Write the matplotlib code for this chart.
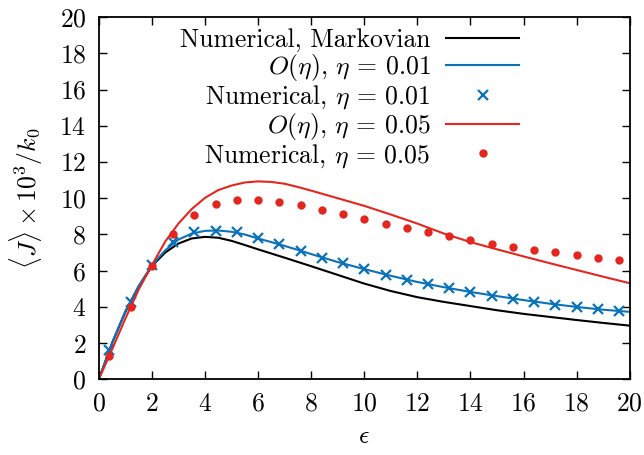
import matplotlib
matplotlib.use("Agg")
import matplotlib.pyplot as plt

# ---------- data ----------

# Markovian numerical curve
mark_x = [0, 0.5, 1, 1.5, 2, 2.5, 3, 3.5, 4, 4.5, 5, 5.5, 6, 7, 8, 9, 10,
          11, 12, 13, 14, 15, 16, 17, 18, 19, 20]
mark_y = [0, 2.0, 3.72, 5.12, 6.25, 7.0, 7.5, 7.78, 7.87, 7.82, 7.65, 7.42,
          7.18, 6.72, 6.25, 5.77, 5.29, 4.88, 4.54, 4.28, 4.05, 3.82, 3.62,
          3.45, 3.28, 3.12, 2.97]

# O(eta) curves
eps_x = [0, 0.5, 1, 1.5, 2, 2.5, 3, 3.5, 4, 4.5, 5, 5.5, 6, 6.5, 7, 7.5, 8,
         9, 10, 11, 12, 13, 14, 15, 16, 17, 18, 19, 20]
o01_y = [0, 2.0, 3.75, 5.15, 6.3, 7.12, 7.72, 8.05, 8.2, 8.22, 8.15, 8.0,
         7.78, 7.58, 7.37, 7.15, 6.92, 6.48, 6.09, 5.72, 5.38, 5.09, 4.83,
         4.6, 4.38, 4.18, 4.0, 3.85, 3.73]
o05_y = [0, 1.65, 3.35, 4.95, 6.3, 7.6, 8.6, 9.4, 10.02, 10.45, 10.7, 10.87,
         10.93, 10.9, 10.8, 10.62, 10.42, 10.0, 9.58, 9.1, 8.6, 8.05, 7.58,
         7.18, 6.79, 6.41, 6.04, 5.67, 5.31]

# numerical points
num_x = [0.4, 1.2, 2.0, 2.8, 3.6, 4.4, 5.2, 6.0, 6.8, 7.6, 8.4, 9.2, 10.0,
         10.8, 11.6, 12.4, 13.2, 14.0, 14.8, 15.6, 16.4, 17.2, 18.0, 18.8,
         19.6]
num01_y = [1.63, 4.30, 6.33, 7.56, 8.11, 8.22, 8.11, 7.78, 7.45, 7.10, 6.73,
           6.40, 6.09, 5.77, 5.51, 5.26, 5.04, 4.83, 4.63, 4.46, 4.28, 4.13,
           4.00, 3.88, 3.77]
num05_y = [1.31, 3.99, 6.25, 8.0, 9.09, 9.70, 9.92, 9.93, 9.82, 9.62, 9.36,
           9.13, 8.85, 8.59, 8.35, 8.11, 7.89, 7.69, 7.50, 7.32, 7.15, 7.01,
           6.86, 6.73, 6.60]

ticks = [0, 2, 4, 6, 8, 10, 12, 14, 16, 18, 20]

blue = "#0a72ba"
red = "#e5261f"

# ---------- style ----------
plt.rcParams["font.family"] = "serif"
plt.rcParams["font.serif"] = ["cmr10"]
plt.rcParams["mathtext.fontset"] = "cm"
plt.rcParams["axes.formatter.use_mathtext"] = True
plt.rcParams["font.size"] = 18.5

fig = plt.figure(figsize=(6.44, 4.55), dpi=100)
ax = fig.add_axes([0.1533, 0.166, 0.8247, 0.7966])

ax.plot(mark_x, mark_y, color="black", lw=1.5, label="Numerical, Markovian")
ax.plot(eps_x, o01_y, color=blue, lw=1.5,
        label=r"$O(\eta)$, $\eta\,=\,0.01$")
ax.plot(num_x, num01_y, ls="none", marker="x", ms=7, mew=1.6, color=blue,
        label=r"Numerical, $\eta\,=\,0.01$")
ax.plot(eps_x, o05_y, color=red, lw=1.5,
        label=r"$O(\eta)$, $\eta\,=\,0.05$")
ax.plot(num_x, num05_y, ls="none", marker="o", ms=6, mew=0, color=red,
        label=r"Numerical, $\eta\,=\,0.05$")

ax.set_xlim(0, 20)
ax.set_ylim(0, 20)
ax.set_xticks(ticks)
ax.set_yticks(ticks)
ax.tick_params(direction="in", top=True, right=True, length=6, width=1,
               pad=9)
for s in ax.spines.values():
    s.set_linewidth(1.3)

ax.set_xlabel(r"$\epsilon$", labelpad=6)
ax.set_ylabel(r"$\langle J\rangle \times 10^3/k_0$", labelpad=10)

ax.legend(loc="upper right", bbox_to_anchor=(0.816, 1.004), frameon=False,
          markerfirst=False, handlelength=2.86, borderpad=0, labelspacing=0.0,
          handletextpad=0.6, numpoints=1)

fig.savefig("out.png", dpi=100)
